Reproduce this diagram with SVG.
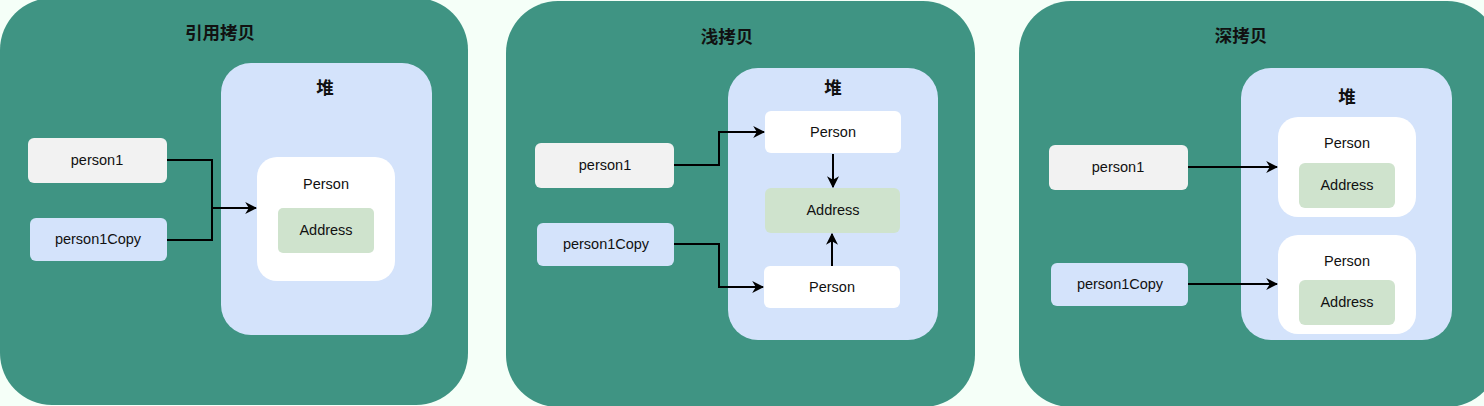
<svg xmlns="http://www.w3.org/2000/svg" width="1484" height="406" viewBox="0 0 1484 406">
<style>
.panel{fill:#3f9483}
.heap{fill:#d4e3fb}
.obj{fill:#ffffff}
.addr{fill:#cfe3cd}
.var1{fill:#f2f2f2}
.var2{fill:#d4e3fb}
text{font-family:"Liberation Sans","Noto Sans CJK SC",sans-serif;font-size:14.5px;fill:#111;text-anchor:middle;dominant-baseline:central}
.title{font-size:17.5px;font-weight:bold}
.line{fill:none;stroke:#000;stroke-width:2}
.conn{fill:none;stroke:#000;stroke-width:2;marker-end:url(#arr)}
</style>
<defs>
<marker id="arr" viewBox="0 0 10 10" refX="9" refY="5" markerWidth="6" markerHeight="6" markerUnits="strokeWidth" orient="auto">
<path d="M0,0 L10,5 L0,10 L3,5 Z" fill="#000"/>
</marker>
</defs>
<rect width="1484" height="406" fill="#f5fff8"/>
<g id="panel-ref">
<rect class="panel" x="0" y="-2" width="468" height="407" rx="52"/>
<text class="title" x="220" y="33">引用拷贝</text>
</g>
<g id="heap-ref">
<rect class="heap" x="221" y="63" width="211" height="272" rx="30"/>
<text class="title" x="325" y="88">堆</text>
</g>
<g id="person-ref">
<rect class="obj" x="257" y="157" width="138" height="124" rx="20"/>
<text x="326" y="184">Person</text>
</g>
<g id="address-ref">
<rect class="addr" x="278" y="208" width="96" height="45" rx="5"/>
<text x="326" y="230">Address</text>
</g>
<g id="person1-ref">
<rect class="var1" x="28" y="138" width="139" height="45" rx="6"/>
<text x="97" y="160">person1</text>
</g>
<g id="person1copy-ref">
<rect class="var2" x="30" y="218" width="137" height="43" rx="6"/>
<text x="98" y="239">person1Copy</text>
</g>

<g id="panel-shallow">
<rect class="panel" x="506" y="1" width="469" height="406" rx="52"/>
<text class="title" x="727" y="37">浅拷贝</text>
</g>
<g id="heap-shallow">
<rect class="heap" x="728" y="68" width="210" height="272" rx="30"/>
<text class="title" x="833" y="88">堆</text>
</g>
<g id="person-shallow-1">
<rect class="obj" x="765" y="111" width="136" height="42" rx="6"/>
<text x="833" y="132">Person</text>
</g>
<g id="address-shallow">
<rect class="addr" x="765" y="188" width="135" height="45" rx="6"/>
<text x="833" y="210">Address</text>
</g>
<g id="person-shallow-2">
<rect class="obj" x="764" y="266" width="136" height="42" rx="6"/>
<text x="832" y="287">Person</text>
</g>
<g id="person1-shallow">
<rect class="var1" x="535" y="143" width="139" height="45" rx="6"/>
<text x="605" y="165">person1</text>
</g>
<g id="person1copy-shallow">
<rect class="var2" x="537" y="223" width="137" height="43" rx="6"/>
<text x="606" y="244">person1Copy</text>
</g>

<g id="panel-deep">
<rect class="panel" x="1019" y="1" width="480" height="406" rx="52"/>
<text class="title" x="1241" y="36">深拷贝</text>
</g>
<g id="heap-deep">
<rect class="heap" x="1241" y="68" width="211" height="272" rx="30"/>
<text class="title" x="1347" y="97">堆</text>
</g>
<g id="person-deep-1">
<rect class="obj" x="1278" y="117" width="138" height="100" rx="20"/>
<text x="1347" y="143">Person</text>
</g>
<g id="address-deep-1">
<rect class="addr" x="1299" y="163" width="96" height="45" rx="6"/>
<text x="1347" y="185">Address</text>
</g>
<g id="person-deep-2">
<rect class="obj" x="1278" y="235" width="138" height="99" rx="20"/>
<text x="1347" y="261">Person</text>
</g>
<g id="address-deep-2">
<rect class="addr" x="1299" y="280" width="96" height="45" rx="6"/>
<text x="1347" y="302">Address</text>
</g>
<g id="person1-deep">
<rect class="var1" x="1049" y="145" width="139" height="45" rx="6"/>
<text x="1118" y="167">person1</text>
</g>
<g id="person1copy-deep">
<rect class="var2" x="1051" y="263" width="137" height="43" rx="6"/>
<text x="1120" y="284">person1Copy</text>
</g>

<g id="connectors">
<polyline class="conn" points="167,160 212,160 212,208 256,208"/>
<polyline class="line" points="167,240 212,240 212,208"/>
<polyline class="conn" points="674,165 719,165 719,132 764,132"/>
<polyline class="conn" points="674,244 719,244 719,287 763,287"/>
<line class="conn" x1="833" y1="154" x2="833" y2="187"/>
<line class="conn" x1="832" y1="266" x2="832" y2="234"/>
<line class="conn" x1="1188" y1="167" x2="1277" y2="167"/>
<line class="conn" x1="1188" y1="284" x2="1277" y2="284"/>
</g>
</svg>
